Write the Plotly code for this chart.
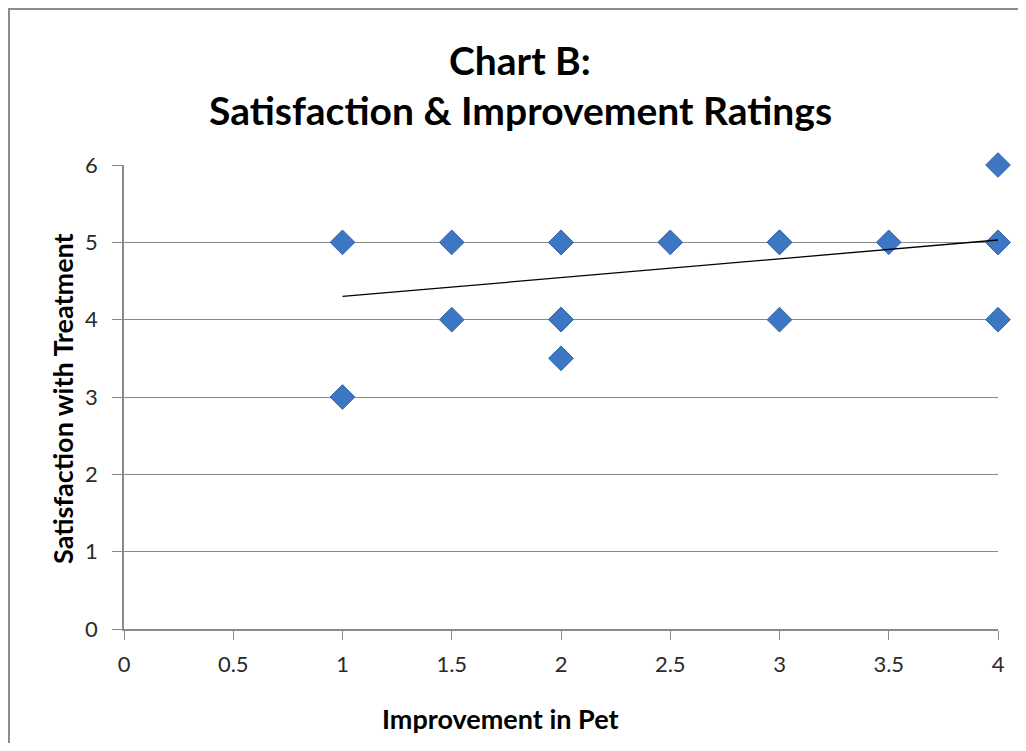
# chart B: satisfaction vs improvement scatter

import plotly.graph_objects as go

improvement = [1, 1, 1.5, 1.5, 2, 2, 2, 2, 2, 2.5, 3, 3, 3, 3.5, 4, 4, 4, 4]
satisfaction = [5, 3, 5, 4, 5, 5, 4, 4, 3.5, 5, 5, 5, 4, 5, 6, 5, 5, 4]

# linear trendline as drawn in the chart
trend_x = [1, 4]
trend_y = [4.3, 5.03]

x_ticks = [0, 0.5, 1, 1.5, 2, 2.5, 3, 3.5, 4]
y_ticks = [0, 1, 2, 3, 4, 5, 6]

font = 'Lato, Calibri, sans-serif'
axis_gray = '#8a8a8a'

# page body has an 8px margin, so the figure is drawn a bit smaller
W, H = 1010, 735
L, T = 116, 157
PW, PH = 874, 464

fig = go.Figure()

fig.add_trace(go.Scatter(
    x=improvement, y=satisfaction, mode='markers',
    marker=dict(symbol='diamond', size=19, color='#3d76c2',
                line=dict(color='#3466ab', width=1)),
    cliponaxis=False, showlegend=False,
))

fig.add_trace(go.Scatter(
    x=trend_x, y=trend_y, mode='lines',
    line=dict(color='black', width=1.3),
    cliponaxis=False, showlegend=False,
))

fig.update_layout(
    width=W, height=H,
    margin=dict(l=L, r=W - L - PW, t=T, b=H - T - PH),
    paper_bgcolor='white', plot_bgcolor='white',
    font=dict(family=font, color='#222'),
)

fig.update_xaxes(
    range=[0, 4], tickvals=x_ticks, ticktext=[f'{v:g}' for v in x_ticks],
    showgrid=False, zeroline=False,
    showline=True, linecolor=axis_gray, linewidth=1.5,
    ticks='outside', ticklen=9, tickcolor=axis_gray,
    tickfont=dict(size=22, color='#2a2a2a'), ticklabelstandoff=6,
)
fig.update_yaxes(
    range=[0, 6], tickvals=y_ticks,
    showgrid=True, gridcolor=axis_gray, gridwidth=1, zeroline=False,
    showline=True, linecolor=axis_gray, linewidth=1.5,
    ticks='outside', ticklen=10, tickcolor=axis_gray,
    tickfont=dict(size=22, color='#2a2a2a'), ticklabelstandoff=10,
)


def px_x(px):
    # viewport pixel -> paper x
    return (px - 8 - L) / PW


def px_y(py):
    # viewport pixel -> paper y
    return 1 - (py - 8 - T) / PH


# title, two lines
fig.add_annotation(text='<b>Chart B:</b>', xref='paper', yref='paper',
                   x=px_x(520), y=px_y(60), yanchor='middle',
                   showarrow=False, font=dict(size=39, color='black'))
fig.add_annotation(text='<b>Satisfaction & Improvement Ratings</b>', xref='paper', yref='paper',
                   x=px_x(520), y=px_y(110), yanchor='middle',
                   showarrow=False, font=dict(size=39, color='black'))

# axis titles
fig.add_annotation(text='<b>Improvement in Pet</b>', xref='paper', yref='paper',
                   x=px_x(500), y=px_y(718), yanchor='middle',
                   showarrow=False, font=dict(size=27, color='black'))
fig.add_annotation(text='<b>Satisfaction with Treatment</b>', xref='paper', yref='paper',
                   x=px_x(62), y=px_y(399), textangle=-90, xanchor='center',
                   showarrow=False, font=dict(size=27, color='black'))

# chart area border
fig.add_shape(type='rect', xref='paper', yref='paper',
              x0=px_x(9), x1=px_x(1060),
              y0=px_y(800), y1=px_y(9),
              line=dict(color='#8c8c8c', width=2), layer='below')

fig.write_html('out.html')
